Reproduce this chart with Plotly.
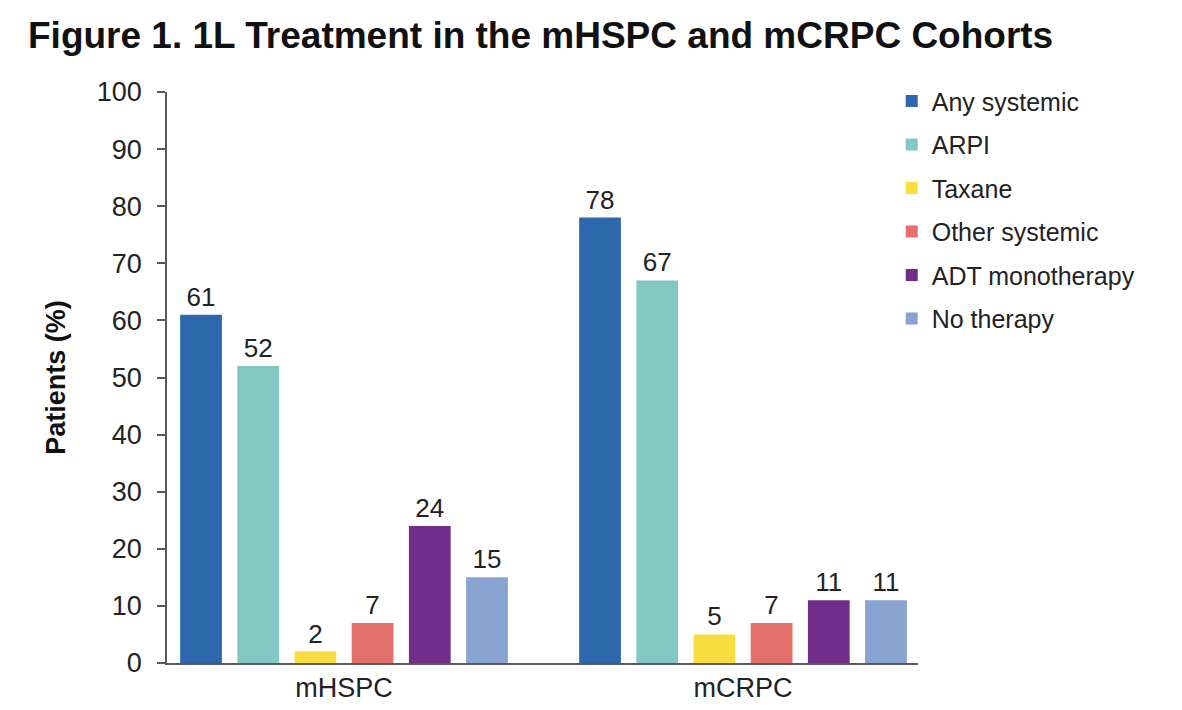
import plotly.graph_objects as go

groups = ["mHSPC", "mCRPC"]
series = ["Any systemic", "ARPI", "Taxane", "Other systemic", "ADT monotherapy", "No therapy"]
values = {
    "Any systemic": [61, 78],
    "ARPI": [52, 67],
    "Taxane": [2, 5],
    "Other systemic": [7, 7],
    "ADT monotherapy": [24, 11],
    "No therapy": [15, 11],
}
colors = ["#2D68AD", "#83C7C5", "#F9DC3D", "#E3706A", "#722D8B", "#88A3CF"]
y_ticks = list(range(0, 101, 10))

FONT = "Liberation Sans, Arial, sans-serif"
fig = go.Figure()
for name, col in zip(series, colors):
    fig.add_trace(go.Bar(
        x=[0, 1], y=values[name], name=name, marker=dict(color=col, line=dict(width=0)),
        text=[str(v) for v in values[name]], textposition="outside",
        textfont=dict(family=FONT, size=26, color="#222222"), cliponaxis=False,
        legendgroup=name,
    ))

fig.update_layout(
    width=1182, height=710,
    margin=dict(l=167, r=264, t=92, b=47, autoexpand=False),
    paper_bgcolor="white", plot_bgcolor="white",
    barmode="group", bargap=0.14, bargroupgap=0.27,
    font=dict(family=FONT, color="#222222"),
    title=dict(text="<b>Figure 1. 1L Treatment in the mHSPC and mCRPC Cohorts</b>",
               font=dict(family=FONT, size=37, color="#111111"),
               xref="container", yref="container", x=28/1182, xanchor="left",
               y=1-35/710, yanchor="middle"),
    legend=dict(x=0.965, y=1.024, xanchor="left", yanchor="top",
                font=dict(family=FONT, size=25, color="#222222"),
                tracegroupgap=8, bgcolor="rgba(0,0,0,0)"),
    xaxis=dict(range=[-0.4436, 1.4386], tickvals=[0, 1], ticktext=groups,
               showline=True, linecolor="#595959", linewidth=1.5,
               ticks="", showgrid=False, zeroline=False, automargin=False,
               tickfont=dict(family=FONT, size=27, color="#222222")),
    yaxis=dict(range=[0, 100], tickvals=y_ticks, showline=True, linecolor="#595959",
               linewidth=1.5, ticks="outside", ticklen=8, tickcolor="#595959", tickwidth=1.5,
               ticklabelstandoff=10, automargin=False,
               showgrid=False, zeroline=False,
               tickfont=dict(family=FONT, size=27, color="#222222"),
               title=dict(text="<b>Patients (%)</b>", font=dict(family=FONT, size=27, color="#111111"),
                          standoff=23)),
)
fig.write_html("out.html")
